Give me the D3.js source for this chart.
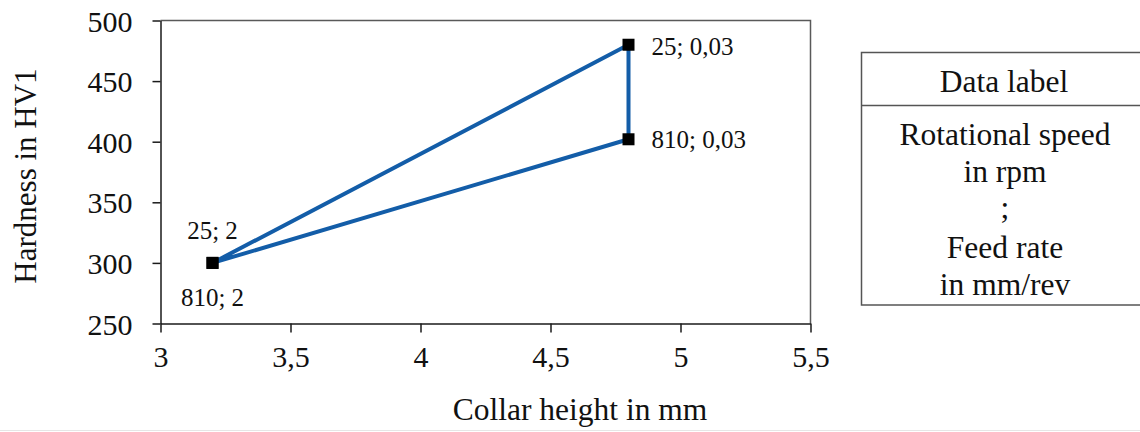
<!DOCTYPE html>
<html>
<head>
<meta charset="utf-8">
<script src="https://cdn.jsdelivr.net/npm/d3@7"></script>
<style>
  html, body { margin: 0; padding: 0; background: #fff; }
  svg { display: block; }
  text { font-family: "Liberation Serif", "Times New Roman", serif; fill: #111; }
</style>
</head>
<body>
<svg id="chart" width="1140" height="432"></svg>
<script>
// Collar height (mm) and hardness (HV1) for each parameter combination,
// listed in the order the connecting line passes through them.
const collarHeight = [3.2, 4.8, 4.8, 3.2];
const hardness     = [300, 480, 402, 300];
const pointLabels  = ["25; 2", "25; 0,03", "810; 0,03", "810; 2"];

const xTicks = [3, 3.5, 4, 4.5, 5, 5.5];
const yTicks = [250, 300, 350, 400, 450, 500];

const legendTitle = "Data label";
const legendLines = ["Rotational speed", "in rpm", ";", "Feed rate", "in mm/rev"];

const svg = d3.select("#chart");

const x = d3.scaleLinear().domain([3, 5.5]).range([160.5, 810.5]);
const y = d3.scaleLinear().domain([250, 500]).range([323.5, 20.5]);

const comma = d => String(d).replace(".", ",");

// plot frame (top and right edges)
svg.append("path")
  .attr("d", `M${x(3)},${y(500)}H${x(5.5)}V${y(250)}`)
  .attr("fill", "none").attr("stroke", "#595959").attr("stroke-width", 1.5);

// y axis
const gy = svg.append("g").attr("transform", `translate(${x(3)},0)`)
  .call(d3.axisLeft(y).tickValues(yTicks).tickSize(8).tickSizeOuter(0).tickFormat(d => d));
gy.selectAll("text").attr("x", -28).attr("dy", "0.35em")
  .style("font-size", "30px").style("font-family", "Liberation Serif").attr("fill", "#111");

// x axis
const gx = svg.append("g").attr("transform", `translate(0,${y(250)})`)
  .call(d3.axisBottom(x).tickValues(xTicks).tickSize(9).tickSizeOuter(0).tickFormat(comma));
gx.selectAll("text").attr("y", 43).attr("dy", 0)
  .style("font-size", "30px").style("font-family", "Liberation Serif").attr("fill", "#111");

[gx, gy].forEach(g => {
  g.selectAll("path, line").attr("stroke", "#1a1a1a").attr("stroke-width", 1.5);
});

// axis titles
svg.append("text")
  .attr("x", 580).attr("y", 420).attr("text-anchor", "middle")
  .style("font-size", "31.5px").text("Collar height in mm");
svg.append("text")
  .attr("transform", "translate(36,176) rotate(-90)").attr("text-anchor", "middle")
  .style("font-size", "31px").text("Hardness in HV1");

// connecting line
const pts = collarHeight.map((c, i) => [x(c), y(hardness[i])]);
svg.append("path")
  .attr("d", d3.line()(pts))
  .attr("fill", "none").attr("stroke", "#135da8").attr("stroke-width", 4)
  .attr("stroke-linejoin", "round");

// markers
svg.append("g").selectAll("rect")
  .data(pts).join("rect")
  .attr("x", d => d[0] - 6).attr("y", d => d[1] - 6)
  .attr("width", 12).attr("height", 12).attr("fill", "#000");

// data labels
const labelPos = [
  { dx: 0, dy: -24, anchor: "middle" },
  { dx: 23, dy: 10, anchor: "start" },
  { dx: 23, dy: 9, anchor: "start" },
  { dx: 0, dy: 43, anchor: "middle" }
];
svg.append("g").selectAll("text")
  .data(pointLabels).join("text")
  .attr("x", (d, i) => pts[i][0] + labelPos[i].dx)
  .attr("y", (d, i) => pts[i][1] + labelPos[i].dy)
  .attr("text-anchor", (d, i) => labelPos[i].anchor)
  .style("font-size", "25px")
  .text(d => d);

// legend box
const lg = svg.append("g");
lg.append("rect")
  .attr("x", 861.5).attr("y", 52.5).attr("width", 300).attr("height", 252.5)
  .attr("fill", "none").attr("stroke", "#555").attr("stroke-width", 1.5);
lg.append("line")
  .attr("x1", 861.5).attr("x2", 1160).attr("y1", 105.5).attr("y2", 105.5)
  .attr("stroke", "#555").attr("stroke-width", 1.5);
lg.append("text")
  .attr("x", 1004).attr("y", 92).attr("text-anchor", "middle")
  .style("font-size", "31.5px").text(legendTitle);
const lineY = [145, 182, 218, 258, 295];
lg.selectAll("text.line")
  .data(legendLines).join("text").attr("class", "line")
  .attr("x", 1005).attr("y", (d, i) => lineY[i]).attr("text-anchor", "middle")
  .style("font-size", "31.5px").text(d => d);

// faint bottom rule
svg.append("line")
  .attr("x1", 0).attr("x2", 1140).attr("y1", 430.5).attr("y2", 430.5)
  .attr("stroke", "#e6e6e6").attr("stroke-width", 1);
</script>
</body>
</html>
